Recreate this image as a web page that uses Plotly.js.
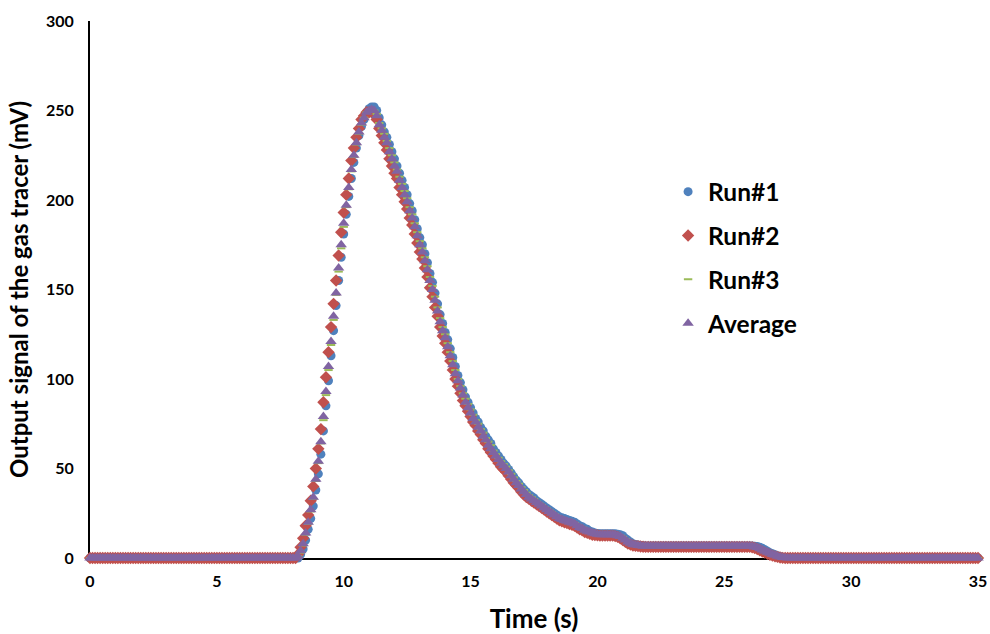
<!DOCTYPE html>
<html>
<head>
<meta charset="utf-8">
<script src="https://cdn.plot.ly/plotly-3.0.1.min.js"></script>
<style>html,body{margin:0;padding:0;background:#fff;}#chart{width:990px;height:634px;}</style>
</head>
<body>
<div id="chart"></div>
<script>
// Time (s), sampled every 0.1 s, one line per second
const time = [
0.0,0.1,0.2,0.3,0.4,0.5,0.6,0.7,0.8,0.9,
1.0,1.1,1.2,1.3,1.4,1.5,1.6,1.7,1.8,1.9,
2.0,2.1,2.2,2.3,2.4,2.5,2.6,2.7,2.8,2.9,
3.0,3.1,3.2,3.3,3.4,3.5,3.6,3.7,3.8,3.9,
4.0,4.1,4.2,4.3,4.4,4.5,4.6,4.7,4.8,4.9,
5.0,5.1,5.2,5.3,5.4,5.5,5.6,5.7,5.8,5.9,
6.0,6.1,6.2,6.3,6.4,6.5,6.6,6.7,6.8,6.9,
7.0,7.1,7.2,7.3,7.4,7.5,7.6,7.7,7.8,7.9,
8.0,8.1,8.2,8.3,8.4,8.5,8.6,8.7,8.8,8.9,
9.0,9.1,9.2,9.3,9.4,9.5,9.6,9.7,9.8,9.9,
10.0,10.1,10.2,10.3,10.4,10.5,10.6,10.7,10.8,10.9,
11.0,11.1,11.2,11.3,11.4,11.5,11.6,11.7,11.8,11.9,
12.0,12.1,12.2,12.3,12.4,12.5,12.6,12.7,12.8,12.9,
13.0,13.1,13.2,13.3,13.4,13.5,13.6,13.7,13.8,13.9,
14.0,14.1,14.2,14.3,14.4,14.5,14.6,14.7,14.8,14.9,
15.0,15.1,15.2,15.3,15.4,15.5,15.6,15.7,15.8,15.9,
16.0,16.1,16.2,16.3,16.4,16.5,16.6,16.7,16.8,16.9,
17.0,17.1,17.2,17.3,17.4,17.5,17.6,17.7,17.8,17.9,
18.0,18.1,18.2,18.3,18.4,18.5,18.6,18.7,18.8,18.9,
19.0,19.1,19.2,19.3,19.4,19.5,19.6,19.7,19.8,19.9,
20.0,20.1,20.2,20.3,20.4,20.5,20.6,20.7,20.8,20.9,
21.0,21.1,21.2,21.3,21.4,21.5,21.6,21.7,21.8,21.9,
22.0,22.1,22.2,22.3,22.4,22.5,22.6,22.7,22.8,22.9,
23.0,23.1,23.2,23.3,23.4,23.5,23.6,23.7,23.8,23.9,
24.0,24.1,24.2,24.3,24.4,24.5,24.6,24.7,24.8,24.9,
25.0,25.1,25.2,25.3,25.4,25.5,25.6,25.7,25.8,25.9,
26.0,26.1,26.2,26.3,26.4,26.5,26.6,26.7,26.8,26.9,
27.0,27.1,27.2,27.3,27.4,27.5,27.6,27.7,27.8,27.9,
28.0,28.1,28.2,28.3,28.4,28.5,28.6,28.7,28.8,28.9,
29.0,29.1,29.2,29.3,29.4,29.5,29.6,29.7,29.8,29.9,
30.0,30.1,30.2,30.3,30.4,30.5,30.6,30.7,30.8,30.9,
31.0,31.1,31.2,31.3,31.4,31.5,31.6,31.7,31.8,31.9,
32.0,32.1,32.2,32.3,32.4,32.5,32.6,32.7,32.8,32.9,
33.0,33.1,33.2,33.3,33.4,33.5,33.6,33.7,33.8,33.9,
34.0,34.1,34.2,34.3,34.4,34.5,34.6,34.7,34.8,34.9,
35.0
];

// Output signal (mV), one line per second
const run1 = [
0,0,0,0,0,0,0,0,0,0,
0,0,0,0,0,0,0,0,0,0,
0,0,0,0,0,0,0,0,0,0,
0,0,0,0,0,0,0,0,0,0,
0,0,0,0,0,0,0,0,0,0,
0,0,0,0,0,0,0,0,0,0,
0,0,0,0,0,0,0,0,0,0,
0,0,0,0,0,0,0,0,0,0,
0,0,0,2,5,10,16,22,29,38,
47,58,71,85,99,113,127,141,155,168,
181,192,202,212,221,229,236,241,245,249,
251,252,252,250,246,242,238,235,231,227,
223,219,215,211,207,203,198,194,189,184,
179,175,170,165,159,154,148,142,136,131,
126,122,117,112,107,102,98,94,90,87,
84,81,78,76,73,71,68,66,64,61,
59,57,55,53,51.5,49.5,47.5,45.5,43.5,42,
40,38.5,37,35.5,34.5,33.5,32,31,30,29,
28,27,26,25,24,23,22.5,22,21.5,21,
20.5,20,19,18,17.5,16.5,16,15,14.5,14,
13.7,13.5,13.5,13.5,13.5,13.5,13.5,13.5,13.3,13,
12.5,11,10,9,8,7.5,7.2,7,6.8,6.7,
6.7,6.7,6.7,6.7,6.7,6.7,6.7,6.7,6.7,6.7,
6.7,6.7,6.7,6.7,6.7,6.7,6.7,6.7,6.7,6.7,
6.7,6.7,6.7,6.7,6.7,6.7,6.7,6.7,6.7,6.7,
6.7,6.7,6.7,6.7,6.7,6.7,6.7,6.7,6.7,6.7,
6.7,6.7,6.6,6.4,6,5.4,4.6,3.8,3,2.4,
1.8,1.2,0.8,0.4,0.2,0,0,0,0,0,
0,0,0,0,0,0,0,0,0,0,
0,0,0,0,0,0,0,0,0,0,
0,0,0,0,0,0,0,0,0,0,
0,0,0,0,0,0,0,0,0,0,
0,0,0,0,0,0,0,0,0,0,
0,0,0,0,0,0,0,0,0,0,
0,0,0,0,0,0,0,0,0,0,
0
];

const run2 = [
0,0,0,0,0,0,0,0,0,0,
0,0,0,0,0,0,0,0,0,0,
0,0,0,0,0,0,0,0,0,0,
0,0,0,0,0,0,0,0,0,0,
0,0,0,0,0,0,0,0,0,0,
0,0,0,0,0,0,0,0,0,0,
0,0,0,0,0,0,0,0,0,0,
0,0,0,0,0,0,0,0,0,0,
0,0,2,6,11,18,24,32,40,50,
61,72,87,101,115,129,142,155,169,182,
193,203,212,222,229,235,240,245,247,249,
249,249,248,245,240,236,232,228,223,219,
215,212,207,203,199,195,190,186,181,176,
171,167,162,157,151,146,140,135,129,124,
120,115,110,105,100,96,92,88,85,82,
79,76,74,71,69,66,64,61,59,57,
55,53,51,49.5,48,46,44,42,40.5,39,
37,35.5,34,33,32,31,30,29,28,27,
26,25,24,23,22,21,20.5,20,19.5,19,
18.5,18,17,16,15.5,14.5,14,13.5,13,12.8,
12.7,12.5,12.5,12.5,12.5,12.5,12.5,12.2,11.8,11,
10,9,8,7.5,7,6.8,6.6,6.4,6.3,6.2,
6.2,6.2,6.2,6.2,6.2,6.2,6.2,6.2,6.2,6.2,
6.2,6.2,6.2,6.2,6.2,6.2,6.2,6.2,6.2,6.2,
6.2,6.2,6.2,6.2,6.2,6.2,6.2,6.2,6.2,6.2,
6.2,6.2,6.2,6.2,6.2,6.2,6.2,6.2,6.2,6.2,
6.2,6,5.6,5,4.3,3.6,3,2.4,1.8,1.3,
0.9,0.6,0.3,0.1,0,0,0,0,0,0,
0,0,0,0,0,0,0,0,0,0,
0,0,0,0,0,0,0,0,0,0,
0,0,0,0,0,0,0,0,0,0,
0,0,0,0,0,0,0,0,0,0,
0,0,0,0,0,0,0,0,0,0,
0,0,0,0,0,0,0,0,0,0,
0,0,0,0,0,0,0,0,0,0,
0
];

const run3 = [
0,0,0,0,0,0,0,0,0,0,
0,0,0,0,0,0,0,0,0,0,
0,0,0,0,0,0,0,0,0,0,
0,0,0,0,0,0,0,0,0,0,
0,0,0,0,0,0,0,0,0,0,
0,0,0,0,0,0,0,0,0,0,
0,0,0,0,0,0,0,0,0,0,
0,0,0,0,0,0,0,0,0,0,
0,0,1,3,7,13,19,26,33,43,
53,64,77,91,105,119,133,147,160,173,
185,196,206,216,224,231,237,242,246,249,
250,250.5,250,248,243,240,237,233,229,225,
221,217,213,209,205,201,196,192,187,182,
177,173,168,163,157,152,146,140,134,129,
125,120,115,110,105,100,96,92,89,86,
83,80,77,75,72,70,67,65,63,60,
58,56,54,52.5,51,49,47,45,43,41.5,
39.5,38,36.5,35,34,33,31.5,30.5,29.5,28.5,
27.5,26.5,25.5,24.5,23.5,22.5,22,21.5,21,20.5,
20,19.5,18.5,17.5,17,16,15.5,14.8,14.3,13.8,
13.5,13.3,13.3,13.3,13.3,13.3,13.3,13.2,13,12.5,
11.8,10.5,9.5,8.5,7.8,7.3,7,6.8,6.7,6.6,
6.6,6.6,6.6,6.6,6.6,6.6,6.6,6.6,6.6,6.6,
6.6,6.6,6.6,6.6,6.6,6.6,6.6,6.6,6.6,6.6,
6.6,6.6,6.6,6.6,6.6,6.6,6.6,6.6,6.6,6.6,
6.6,6.6,6.6,6.6,6.6,6.6,6.6,6.6,6.6,6.6,
6.6,6.5,6.3,6,5.4,4.7,4,3.3,2.7,2.1,
1.6,1.1,0.7,0.4,0.2,0,0,0,0,0,
0,0,0,0,0,0,0,0,0,0,
0,0,0,0,0,0,0,0,0,0,
0,0,0,0,0,0,0,0,0,0,
0,0,0,0,0,0,0,0,0,0,
0,0,0,0,0,0,0,0,0,0,
0,0,0,0,0,0,0,0,0,0,
0,0,0,0,0,0,0,0,0,0,
0
];

const average = [
0,0,0,0,0,0,0,0,0,0,
0,0,0,0,0,0,0,0,0,0,
0,0,0,0,0,0,0,0,0,0,
0,0,0,0,0,0,0,0,0,0,
0,0,0,0,0,0,0,0,0,0,
0,0,0,0,0,0,0,0,0,0,
0,0,0,0,0,0,0,0,0,0,
0,0,0,0,0,0,0,0,0,0,
0,0,1,4,8,14,20,27,34,44,
54,65,79,93,107,121,135,148,162,175,
187,197,207,217,225,232,238,243,246,249,
250,250.5,250,247,242,239,235,232,227,223,
219,216,211,207,203,199,194,190,185,180,
175,171,166,161,155,150,144,138,132,127,
123,118,113,108,103,99,95,91,87,84,
81,78,76,73,71,68,66,63,61,59,
57,55,53,51.5,50,48,46,44,42,40.5,
38.5,37,35.5,34,33,32,31,30,29,28,
27,26,25,24,23,22,21.5,21,20.5,20,
19.5,19,18,17,16.5,15.5,15,14.5,14,13.5,
13.2,13,13,13,13,13,13,12.8,12.5,12,
11,10,9,8.2,7.6,7.2,7,6.8,6.6,6.5,
6.5,6.5,6.5,6.5,6.5,6.5,6.5,6.5,6.5,6.5,
6.5,6.5,6.5,6.5,6.5,6.5,6.5,6.5,6.5,6.5,
6.5,6.5,6.5,6.5,6.5,6.5,6.5,6.5,6.5,6.5,
6.5,6.5,6.5,6.5,6.5,6.5,6.5,6.5,6.5,6.5,
6.5,6.4,6.2,5.8,5.2,4.5,3.8,3.2,2.6,2,
1.5,1,0.6,0.3,0.1,0,0,0,0,0,
0,0,0,0,0,0,0,0,0,0,
0,0,0,0,0,0,0,0,0,0,
0,0,0,0,0,0,0,0,0,0,
0,0,0,0,0,0,0,0,0,0,
0,0,0,0,0,0,0,0,0,0,
0,0,0,0,0,0,0,0,0,0,
0,0,0,0,0,0,0,0,0,0,
0
];

const seriesNames = ['Run#1', 'Run#2', 'Run#3', 'Average'];
const xTickVals = [0, 5, 10, 15, 20, 25, 30, 35];
const yTickVals = [0, 50, 100, 150, 200, 250, 300];

const FONT = 'Lato, "Open Sans", "Liberation Sans", sans-serif';

const traces = [
  {x: time, y: run1, name: seriesNames[0], legendgroup: 'g1', type: 'scatter', mode: 'markers', cliponaxis: false,
   marker: {symbol: 'circle', size: 9, color: '#4F81BD'}},
  {x: time, y: run2, name: seriesNames[1], legendgroup: 'g2', type: 'scatter', mode: 'markers', cliponaxis: false,
   marker: {symbol: 'diamond', size: 9.5, color: '#C0504D'}},
  {x: time, y: run3, name: seriesNames[2], legendgroup: 'g3', type: 'scatter', mode: 'markers', cliponaxis: false,
   marker: {symbol: 'line-ew', size: 6, color: '#9BBB59', line: {color: '#9BBB59', width: 2}}},
  {x: time, y: average, name: seriesNames[3], legendgroup: 'g4', type: 'scatter', mode: 'markers', cliponaxis: false,
   marker: {symbol: 'triangle-up', size: 10, color: '#8064A2'}}
];

const layout = {
  width: 990, height: 634,
  margin: {l: 90, r: 12, t: 21, b: 76},
  paper_bgcolor: '#ffffff', plot_bgcolor: '#ffffff',
  font: {family: FONT, color: '#000000'},
  showlegend: true,
  legend: {
    x: 0.651, y: 0.724, xanchor: 'left', yanchor: 'top',
    bgcolor: 'rgba(0,0,0,0)', tracegroupgap: 9,
    font: {family: FONT, size: 24.5, weight: 'bold', color: '#000000'}
  },
  xaxis: {
    range: [0, 35], tickvals: xTickVals, ticktext: xTickVals.map(String),
    showgrid: false, zeroline: false, showline: true, linecolor: '#000000', linewidth: 2,
    ticks: '', ticklabelstandoff: 8, layer: 'below traces',
    tickfont: {family: FONT, size: 16, weight: 'bold', color: '#000000'},
    title: {text: 'Time (s)', font: {family: FONT, size: 26, weight: 'bold', color: '#000000'}, standoff: 22}
  },
  yaxis: {
    range: [0, 300], tickvals: yTickVals, ticktext: yTickVals.map(String),
    showgrid: false, zeroline: false, showline: true, linecolor: '#000000', linewidth: 2,
    ticks: '', ticklabelstandoff: 11, layer: 'below traces',
    tickfont: {family: FONT, size: 16, weight: 'bold', color: '#000000'},
    title: {text: 'Output signal of the gas tracer (mV)', font: {family: FONT, size: 24, weight: 'bold', color: '#000000'}, standoff: 11}
  }
};

Plotly.newPlot('chart', traces, layout, {displayModeBar: false, staticPlot: true});
</script>
</body>
</html>
